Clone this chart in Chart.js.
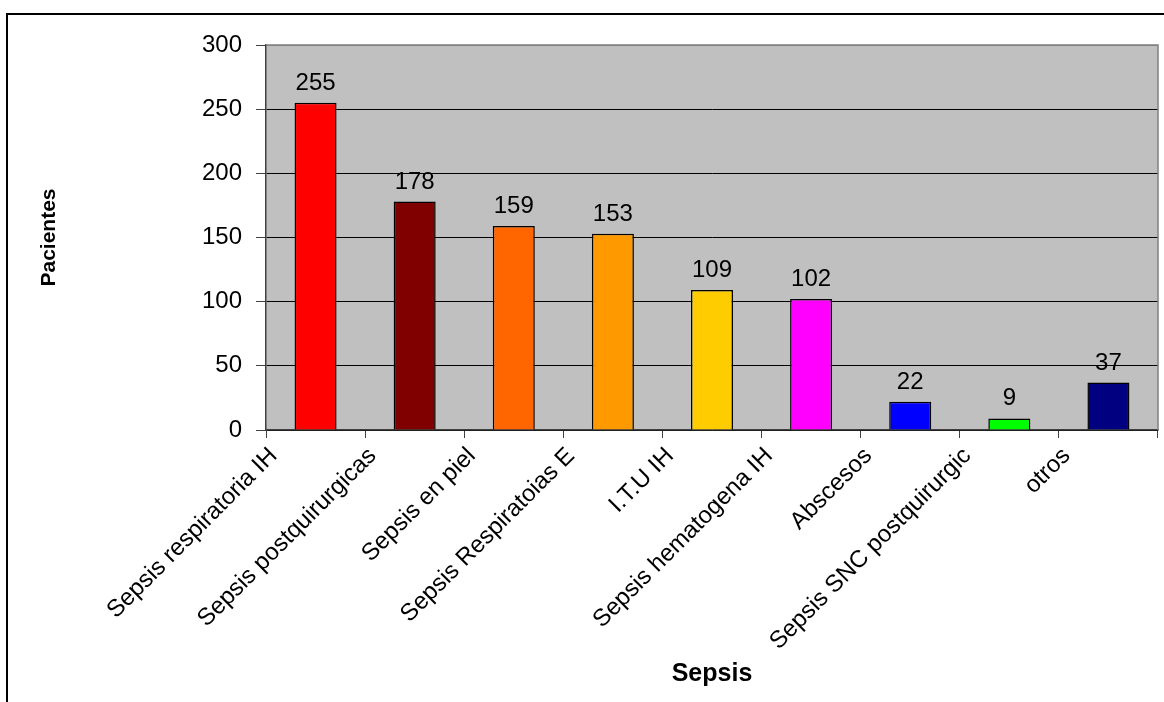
<!DOCTYPE html>
<html>
<head>
<meta charset="utf-8">
<title>Sepsis - Pacientes</title>
<script src="https://cdn.jsdelivr.net/npm/chart.js@4.4.1/dist/chart.umd.min.js"></script>
<style>
  html, body { margin: 0; padding: 0; background: #ffffff; overflow: hidden; }
  #wrap { position: relative; width: 1164px; height: 702px; }
  #c { position: absolute; left: 0; top: 0; }
  #frame {
    position: absolute; left: 6px; top: 13px; width: 2000px; height: 2000px;
    border-left: 2px solid #000; border-top: 2px solid #000; pointer-events: none;
  }
</style>
</head>
<body>
<div id="wrap">
  <canvas id="c" width="1164" height="702"></canvas>
  <div id="frame"></div>
</div>
<script>
// Infection types (category axis)
const categories = [
  'Sepsis respiratoria IH',
  'Sepsis postquirurgicas',
  'Sepsis en piel',
  'Sepsis Respiratoias E',
  'I.T.U IH',
  'Sepsis hematogena IH',
  'Abscesos',
  'Sepsis SNC postquirurgic',
  'otros'
];

// Number of patients per infection type
const pacientes = [255, 178, 159, 153, 109, 102, 22, 9, 37];

// One fill colour per bar
const barColors = ['#FF0000', '#800000', '#FF6600', '#FF9900', '#FFCC00', '#FF00FF', '#0000FF', '#00FF00', '#000080'];

// Value axis range
const yMin = 0;
const yMax = 300;
const yStep = 50;

const FONT = "'Liberation Sans', Arial, sans-serif";

// Grey plot background plus the grey frame on its top and right sides
const plotArea = {
  id: 'plotArea',
  beforeDraw(chart) {
    const { ctx, chartArea: a } = chart;
    ctx.save();
    ctx.fillStyle = '#C0C0C0';
    ctx.fillRect(a.left, a.top, a.right - a.left, a.bottom - a.top);
    ctx.restore();
  },
  beforeDatasetsDraw(chart) {
    const { ctx, chartArea: a } = chart;
    ctx.save();
    ctx.strokeStyle = '#808080';
    ctx.lineWidth = 1.5;
    ctx.beginPath();
    ctx.moveTo(a.left, a.top);
    ctx.lineTo(a.right, a.top);
    ctx.lineTo(a.right, a.bottom);
    ctx.stroke();
    ctx.restore();
  }
};

// Value printed above every bar
const valueLabels = {
  id: 'valueLabels',
  afterDatasetsDraw(chart) {
    const { ctx } = chart;
    const meta = chart.getDatasetMeta(0);
    const values = chart.data.datasets[0].data;
    ctx.save();
    ctx.font = '24px ' + FONT;
    ctx.fillStyle = '#000';
    ctx.textAlign = 'center';
    ctx.textBaseline = 'alphabetic';
    meta.data.forEach((bar, i) => {
      ctx.fillText(String(values[i]), bar.x, bar.y - 13);
    });
    ctx.restore();
  }
};

new Chart(document.getElementById('c'), {
  type: 'bar',
  data: {
    labels: categories,
    datasets: [{
      data: pacientes,
      backgroundColor: barColors,
      borderColor: '#000000',
      borderWidth: 1.5,
      barPercentage: 0.424,
      categoryPercentage: 1
    }]
  },
  options: {
    responsive: false,
    animation: false,
    devicePixelRatio: 1,
    layout: { padding: { left: 37, top: 45, right: 6, bottom: 13 } },
    plugins: {
      legend: { display: false },
      tooltip: { enabled: false }
    },
    scales: {
      x: {
        afterFit(scale) { scale.height = 259; },
        grid: {
          offset: true,
          drawOnChartArea: false,
          drawTicks: true,
          tickLength: 8,
          color: '#404040',
          lineWidth: 1
        },
        border: { display: true, color: '#404040', width: 1.5 },
        ticks: {
          autoSkip: false,
          minRotation: 45,
          maxRotation: 45,
          padding: 4,
          labelOffset: -42,
          color: '#000',
          font: { family: FONT, size: 24 }
        },
        title: {
          display: true,
          text: 'Sepsis',
          color: '#000',
          padding: 0,
          font: { family: FONT, size: 25, weight: 'bold' }
        }
      },
      y: {
        min: yMin,
        max: yMax,
        afterFit(scale) { scale.width = 229; },
        grid: {
          drawTicks: true,
          tickLength: 10,
          lineWidth: 1,
          color: (ctx) => (ctx.tick && ctx.tick.value === yMax) ? '#808080' : '#000000',
          tickColor: '#404040'
        },
        border: { display: true, color: '#404040', width: 1.5 },
        ticks: {
          stepSize: yStep,
          padding: 14,
          color: '#000',
          font: { family: FONT, size: 24 }
        },
        title: {
          display: true,
          text: 'Pacientes',
          color: '#000',
          padding: 0,
          font: { family: FONT, size: 21, weight: 'bold' }
        }
      }
    }
  },
  plugins: [plotArea, valueLabels]
});
</script>
</body>
</html>
